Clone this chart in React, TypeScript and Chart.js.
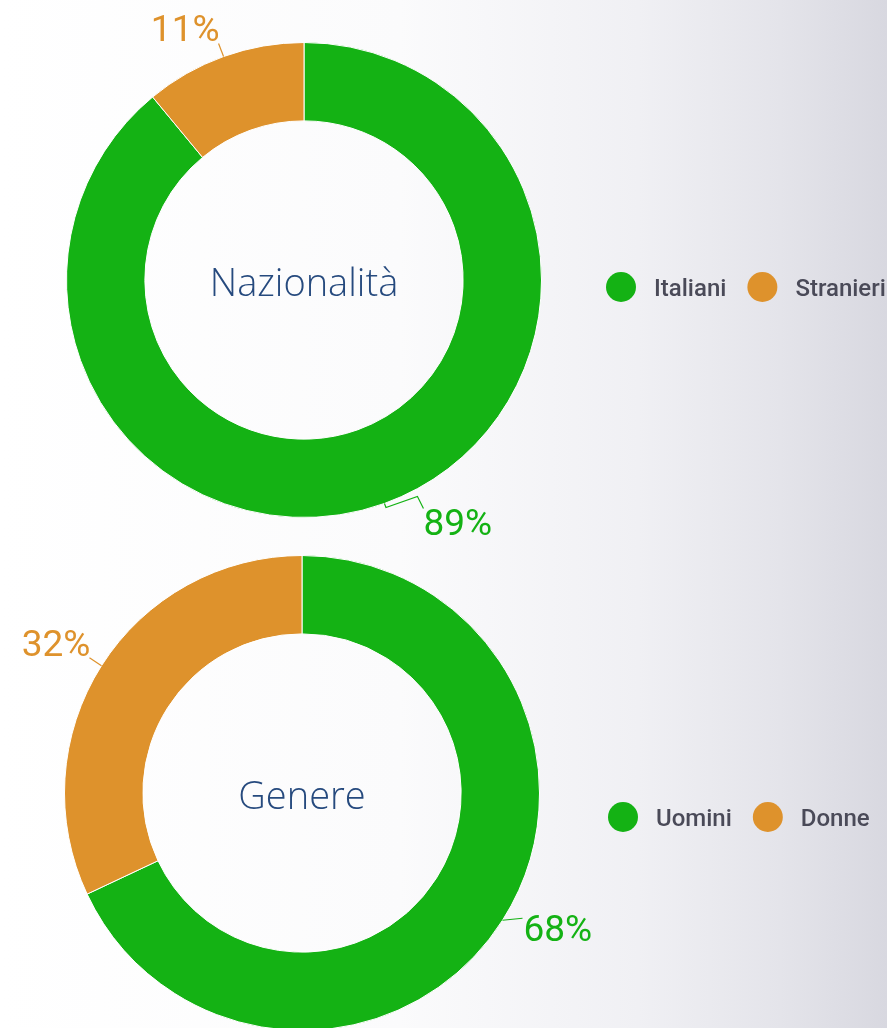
import React, { useEffect, useRef } from "react";
import { Chart, registerables } from "chart.js";

Chart.register(...registerables);

// ---- Data ----
const nazionalitaLabels = ["Italiani", "Stranieri"];
const nazionalitaValues = [89, 11];
const genereLabels = ["Uomini", "Donne"];
const genereValues = [68, 32];
const sliceColors = ["#14b214", "#de922c"];
const chartTitles = ["Nazionalità", "Genere"];

// ---- Layout (positions/styles, not data) ----
type LabelLayout = { leader: number[][]; dx: number; dy: number; align: CanvasTextAlign };

const layout1 = {
  padding: { left: 66, right: 345, top: 42, bottom: 42 },
  legendX: 621,
  legendY: 287,
  labels: [
    { leader: [[1.5, 4], [33, -7], [39, 5]], dx: 39, dy: 32, align: "left" },
    { leader: [[-5, -13]], dx: -4, dy: -16, align: "right" },
  ] as LabelLayout[],
};

const layout2 = {
  padding: { left: 64, right: 347, top: 42, bottom: 42 },
  legendX: 623,
  legendY: 304,
  labels: [
    { leader: [[20, -2]], dx: 21, dy: 20.5, align: "left" },
    { leader: [[-12, -8]], dx: -11, dy: -9.5, align: "right" },
  ] as LabelLayout[],
};

const decorPlugin = {
  id: "donutDecor",
  afterDraw(chart: any, _args: any, opts: any) {
    const ctx: CanvasRenderingContext2D = chart.ctx;
    const meta = chart.getDatasetMeta(0);
    const values: number[] = chart.data.datasets[0].data;
    const colors: string[] = chart.data.datasets[0].backgroundColor;
    const total = values.reduce((a, b) => a + b, 0);
    let cx = 0;
    let cy = 0;
    ctx.save();
    meta.data.forEach((arc: any, i: number) => {
      const p = arc.getProps(["x", "y", "startAngle", "endAngle", "outerRadius"], true);
      cx = p.x;
      cy = p.y;
      const mid = (p.startAngle + p.endAngle) / 2;
      const ax = p.x + Math.cos(mid) * p.outerRadius;
      const ay = p.y + Math.sin(mid) * p.outerRadius;
      const lay: LabelLayout = opts.labels[i];
      ctx.strokeStyle = colors[i];
      ctx.lineWidth = 1.2;
      ctx.beginPath();
      ctx.moveTo(ax, ay);
      lay.leader.forEach((pt) => ctx.lineTo(ax + pt[0], ay + pt[1]));
      ctx.stroke();
      ctx.fillStyle = colors[i];
      ctx.font = '37px Roboto';
      ctx.textAlign = lay.align;
      ctx.textBaseline = "alphabetic";
      const pct = Math.round((values[i] / total) * 100) + "%";
      ctx.fillText(pct, ax + lay.dx, ay + lay.dy);
    });

    // center title
    ctx.fillStyle = "#264a7e";
    ctx.font = '300 38px "Open Sans"';
    ctx.textAlign = "center";
    ctx.textBaseline = "alphabetic";
    ctx.fillText(opts.title, cx, cy + 16);

    // legend
    let x = opts.legendX;
    const y = opts.legendY;
    ctx.font = '500 24px Roboto';
    ctx.textAlign = "left";
    (chart.data.labels as string[]).forEach((lab, i) => {
      ctx.fillStyle = colors[i];
      ctx.beginPath();
      ctx.arc(x, y, 15, 0, Math.PI * 2);
      ctx.fill();
      ctx.fillStyle = "#4a4a58";
      const tx = x + 33;
      ctx.fillText(lab, tx, y + 8.5);
      x = tx + ctx.measureText(lab).width + 36;
    });
    ctx.restore();
  },
};

function makeChart(canvas: HTMLCanvasElement, labels: string[], values: number[], title: string, lay: any) {
  return new Chart(canvas, {
    type: "doughnut",
    data: {
      labels,
      datasets: [
        {
          data: values,
          backgroundColor: sliceColors,
          borderColor: "#ffffff",
          borderWidth: 1,
          hoverOffset: 0,
        },
      ],
    },
    options: {
      responsive: false,
      animation: false,
      cutout: "67%",
      layout: { padding: lay.padding },
      plugins: {
        legend: { display: false },
        tooltip: { enabled: false },
        donutDecor: { title, legendX: lay.legendX, legendY: lay.legendY, labels: lay.labels },
      } as any,
    },
    plugins: [decorPlugin],
  });
}

export default function App() {
  const ref1 = useRef<HTMLCanvasElement>(null);
  const ref2 = useRef<HTMLCanvasElement>(null);

  useEffect(() => {
    const c1 = makeChart(ref1.current!, nazionalitaLabels, nazionalitaValues, chartTitles[0], layout1);
    const c2 = makeChart(ref2.current!, genereLabels, genereValues, chartTitles[1], layout2);
    let alive = true;
    if ((document as any).fonts) {
      Promise.all([
        (document as any).fonts.load('300 38px "Open Sans"'),
        (document as any).fonts.load("37px Roboto"),
        (document as any).fonts.load("500 24px Roboto"),
      ])
        .catch(() => {})
        .then(() => {
          if (alive) {
            c1.update();
            c2.update();
          }
        });
    }
    return () => {
      alive = false;
      c1.destroy();
      c2.destroy();
    };
  }, []);

  return (
    <div
      style={{
        position: "fixed",
        left: 0,
        top: 0,
        width: 887,
        height: 1028,
        overflow: "hidden",
        background:
          "linear-gradient(to right, #ffffff 0%, #fbfbfc 45%, #f0f0f4 72%, #e4e4ea 88%, #d8d8e0 100%)",
      }}
    >
      <canvas ref={ref1} width={887} height={560} style={{ position: "absolute", left: 0, top: 0 }} />
      <canvas ref={ref2} width={887} height={560} style={{ position: "absolute", left: 0, top: 513 }} />
    </div>
  );
}
